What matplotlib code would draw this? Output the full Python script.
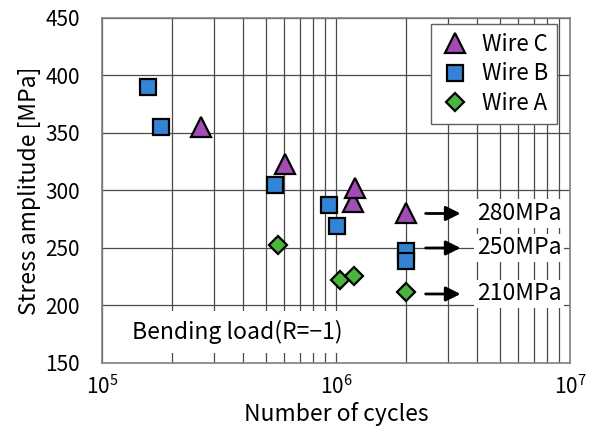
import numpy as np
import matplotlib
matplotlib.use('Agg')
from matplotlib import pyplot as plt
from matplotlib.ticker import NullFormatter

plt.rcParams['font.family'] = ['Noto Sans CJK JP', 'DejaVu Sans']

# Fatigue test results (cycles, stress amplitude in MPa)
wire_c_n = [2.65e5, 6.05e5, 1.18e6, 1.20e6, 2.0e6]
wire_c_s = [355, 323, 290, 302, 280]
wire_b_n = [1.57e5, 1.79e5, 5.48e5, 9.36e5, 1.01e6, 2.0e6, 2.0e6]
wire_b_s = [390, 355, 305, 287, 269, 247, 239]
wire_a_n = [5.67e5, 1.04e6, 1.19e6, 2.0e6]
wire_a_s = [253, 222, 226, 212]

# run-out levels marked with arrows
runout_s = [280, 250, 210]
runout_labels = ['280MPa', '250MPa', '210MPa']

fig = plt.figure(figsize=(5.9, 4.28), dpi=100)
ax = fig.add_axes([0.1729, 0.1519, 0.7932, 0.8061])

ax.set_xscale('log')
ax.set_xlim(1e5, 1e7)
ax.set_ylim(150, 450)
ax.set_yticks(np.arange(150, 451, 50))
ax.xaxis.set_minor_formatter(NullFormatter())

ax.grid(True, which='both', axis='x', color='#4a4a4a', lw=0.9, zorder=0)
ax.grid(True, which='major', axis='y', color='#4a4a4a', lw=0.9, zorder=0)
ax.set_axisbelow(True)
ax.tick_params(which='both', length=0, labelsize=15)
ax.tick_params(axis='y', pad=16)
ax.tick_params(axis='x', pad=9)
for sp in ax.spines.values():
    sp.set_color('#808080')
    sp.set_linewidth(1.2)

ax.plot(wire_c_n, wire_c_s, ls='none', marker='^', ms=15, mfc='#a24cb4',
        mec='black', mew=1.6, label='Wire C', zorder=4)
ax.plot(wire_b_n, wire_b_s, ls='none', marker='s', ms=11.5, mfc='#3384d4',
        mec='black', mew=1.6, label='Wire B', zorder=3)
ax.plot(wire_a_n, wire_a_s, ls='none', marker='D', ms=9.5, mfc='#4bb43c',
        mec='black', mew=1.6, label='Wire A', zorder=3)

# arrows and run-out stress labels
for s, lab in zip(runout_s, runout_labels):
    ax.annotate('', xy=(3.5e6, s), xytext=(2.35e6, s),
                arrowprops=dict(arrowstyle='-|>', color='black', lw=2,
                                mutation_scale=22), zorder=5)
    ax.text(4.0e6, s, lab, fontsize=16.5, va='center', ha='left', zorder=5,
            bbox=dict(facecolor='white', edgecolor='none', pad=2))

ax.text(0.064, 0.09, 'Bending load(R=\u22121)', transform=ax.transAxes,
        fontsize=16.5, va='center', ha='left', zorder=5,
        bbox=dict(boxstyle='square,pad=0.4', facecolor='white',
                  edgecolor='none'))

leg = ax.legend(loc='upper right', bbox_to_anchor=(0.972, 0.983),
                borderaxespad=0, fontsize=16, fancybox=False,
                edgecolor='#606060', framealpha=1, labelspacing=0.3,
                handlelength=1.4, handletextpad=0.5, borderpad=0.4)
leg.get_frame().set_linewidth(1.0)

ax.set_xlabel('Number of cycles', fontsize=16.5, labelpad=2)
ax.set_ylabel('Stress amplitude [MPa]', fontsize=16.5, labelpad=3)

plt.savefig('out.png', dpi=100)
